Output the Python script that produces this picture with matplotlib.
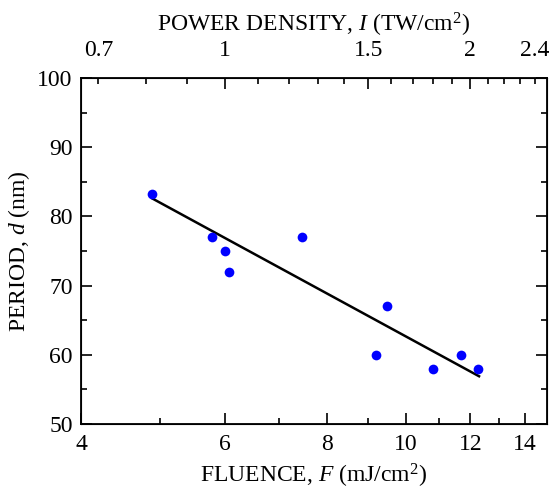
import matplotlib
matplotlib.use("Agg")
import matplotlib.pyplot as plt
import matplotlib.transforms as mtransforms
from matplotlib.ticker import FixedLocator, NullFormatter, FixedFormatter

plt.rcParams['font.family'] = ['Liberation Serif', 'DejaVu Serif']
plt.rcParams['mathtext.fontset'] = 'custom'
plt.rcParams['mathtext.rm'] = 'Liberation Serif'
plt.rcParams['mathtext.it'] = 'Liberation Serif:italic'

# Data
fluence = [4.89, 5.79, 6.0, 6.08, 7.47, 9.48, 9.19, 10.8, 11.68, 12.26]
period = [83.3, 77.0, 75.0, 72.0, 77.0, 67.0, 60.0, 58.0, 60.0, 58.0]
fit_fluence = [4.89, 12.3]
fit_period = [82.6, 56.9]

bottom_ticks = [4, 6, 8, 10, 12, 14]
bottom_minor = [5, 7, 9, 11, 13]
top_ticks = [1, 1.5, 2]
top_labels_pos = [0.7, 1, 1.5, 2, 2.4]
top_labels = ['0.7', '1', '1.5', '2', '2.4']
top_minor = [0.7, 0.8, 0.9, 1.1, 1.2, 1.3, 1.4, 1.6, 1.7, 1.8, 1.9, 2.1, 2.2, 2.3, 2.4]
y_ticks = [50, 60, 70, 80, 90, 100]
y_minor = [55, 65, 75, 85, 95]
ratio = 6.0  # F = 6 * I

xmin, xmax = 4.0, 14.9

fig = plt.figure(figsize=(5.5, 4.94), dpi=100)
ax = fig.add_axes([81/550, 1 - 424/494, 466/550, 346/494])

ax.plot(fit_fluence, fit_period, color='black', lw=1.8, zorder=2)
ax.plot(fluence, period, 'o', color='#0000ff', ms=7, mec='none', zorder=3)

ax.set_xscale('log')
ax.set_xlim(xmin, xmax)
ax.set_ylim(50, 100)

fs = 17
ax.xaxis.set_major_locator(FixedLocator(bottom_ticks))
ax.xaxis.set_major_formatter(FixedFormatter([str(t) for t in bottom_ticks]))
ax.xaxis.set_minor_locator(FixedLocator(bottom_minor))
ax.xaxis.set_minor_formatter(NullFormatter())
ax.yaxis.set_major_locator(FixedLocator(y_ticks))
ax.yaxis.set_minor_locator(FixedLocator(y_minor))

ax.tick_params(which='both', direction='in', top=False, right=True, labelsize=fs, width=1.2)
ax.tick_params(which='major', length=8)
ax.tick_params(which='minor', length=4.5)
ax.tick_params(axis='x', which='major', pad=7)
ax.tick_params(axis='y', which='major', pad=6)
for s in ax.spines.values():
    s.set_linewidth(1.3)

ax.set_xlabel('FLUENCE, $\\it{F}$ (mJ/cm$^2$)', fontsize=fs, labelpad=5)
ax.set_ylabel('PERIOD, $\\it{d}$ (nm)', fontsize=fs, labelpad=4)

ax2 = ax.twiny()
ax2.set_xscale('log')
ax2.set_xlim(xmin / ratio, xmax / ratio)
ax2.xaxis.set_major_locator(FixedLocator(top_ticks))
ax2.xaxis.set_major_formatter(NullFormatter())
ax2.xaxis.set_minor_locator(FixedLocator(top_minor))
ax2.xaxis.set_minor_formatter(NullFormatter())
ax2.tick_params(which='both', direction='in', labelsize=fs, width=1.2)
ax2.tick_params(which='major', length=8)
ax2.tick_params(which='minor', length=4.5)

lab_tr = ax2.get_xaxis_transform() + mtransforms.ScaledTranslation(0, 22/100, fig.dpi_scale_trans)
for p, l in zip(top_labels_pos, top_labels):
    ax2.text(p, 1.0, l, transform=lab_tr, ha='center', va='baseline', fontsize=fs)
title_tr = ax2.transAxes + mtransforms.ScaledTranslation(0, 46/100, fig.dpi_scale_trans)
ax2.text(0.5, 1.0, 'POWER DENSITY, $\\it{I}$ (TW/cm$^2$)', transform=title_tr,
         ha='center', va='baseline', fontsize=fs)

fig.savefig('out.png', dpi=100)
